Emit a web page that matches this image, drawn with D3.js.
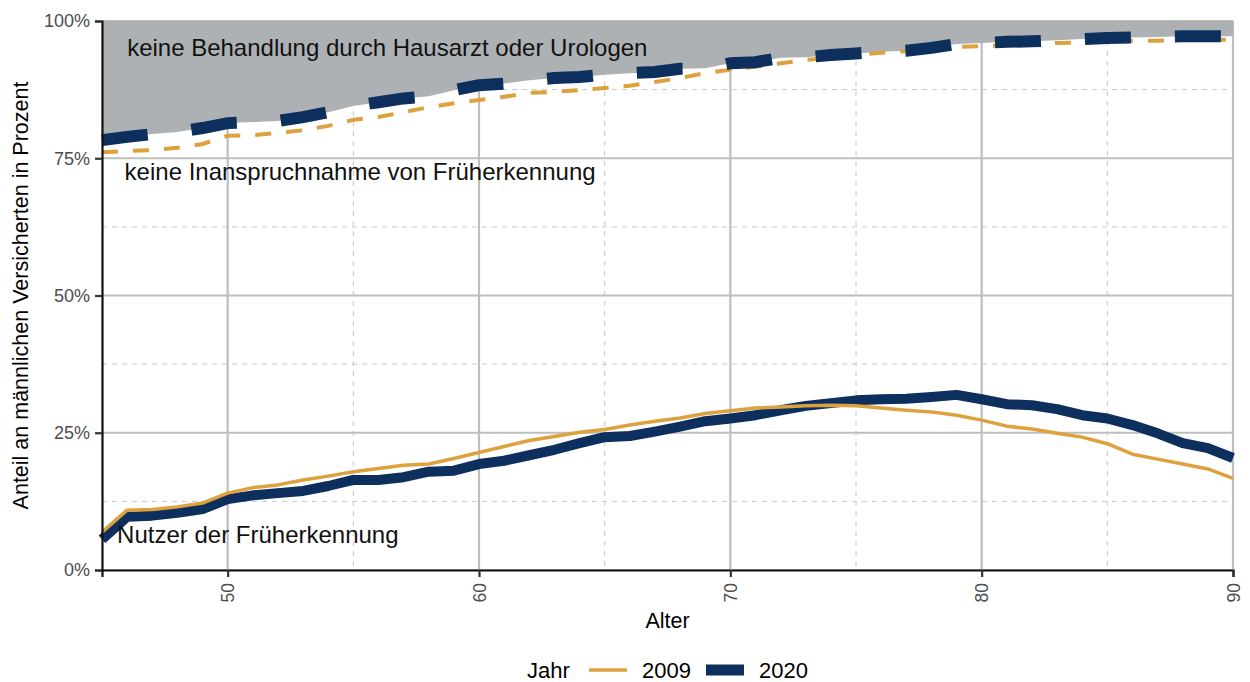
<!DOCTYPE html>
<html>
<head>
<meta charset="utf-8">
<script src="https://cdn.jsdelivr.net/npm/d3@7"></script>
<style>
  body { margin: 0; background: #fff; }
  text { font-family: "Liberation Sans", Arial, sans-serif; }
</style>
</head>
<body>
<div id="wrapper"></div>
<script>
// ages 45..90
const ages = d3.range(45, 91)

// Nutzer der Früherkennung (in %)
const users2009 = [6.9, 10.9, 11.0, 11.5, 12.2, 14.0, 15.0, 15.5, 16.4, 17.1,
  17.9, 18.5, 19.1, 19.3, 20.3, 21.4, 22.5, 23.6, 24.3, 25.1, 25.6, 26.4, 27.1, 27.7, 28.5,
  29.0, 29.5, 29.7, 29.9, 30.0, 29.9, 29.5, 29.1, 28.8, 28.2, 27.3, 26.2, 25.7, 24.9,
  24.2, 23.0, 21.1, 20.2, 19.3, 18.4, 16.7]
const users2020 = [5.6, 9.7, 9.9, 10.4, 11.1, 12.9, 13.6, 14.0, 14.4, 15.3,
  16.4, 16.4, 16.9, 17.9, 18.1, 19.3, 19.9, 20.9, 21.9, 23.1, 24.2, 24.4, 25.2, 26.1, 27.1,
  27.6, 28.2, 29.1, 29.9, 30.4, 30.9, 31.1, 31.2, 31.5, 31.9, 31.1, 30.2, 30.0, 29.3,
  28.2, 27.6, 26.4, 24.9, 23.1, 22.2, 20.4]

// Anteil mit Behandlung durch Hausarzt oder Urologen (in %)
const treated2009 = [76.1, 76.3, 76.5, 76.9, 77.6, 79.1, 79.2, 79.6, 80.1, 80.9,
  82.0, 82.5, 83.4, 84.3, 85.0, 85.6, 86.2, 86.9, 87.1, 87.4, 87.8, 88.2, 88.9, 89.6, 90.5,
  91.1, 91.7, 92.3, 92.9, 93.3, 93.8, 94.2, 94.5, 95.0, 95.3, 95.4, 95.6, 95.8, 96.0,
  96.1, 96.3, 96.4, 96.4, 96.6, 96.6, 96.6]
const treated2020 = [78.3, 78.9, 79.4, 79.8, 80.5, 81.4, 81.6, 81.8, 82.5, 83.4,
  84.5, 85.2, 85.9, 86.3, 87.4, 88.3, 88.6, 89.2, 89.6, 89.8, 90.2, 90.5, 90.7, 91.3, 91.4,
  92.3, 92.5, 93.3, 93.4, 93.8, 94.1, 94.4, 94.6, 95.1, 95.8, 96.0, 96.2, 96.3, 96.5,
  96.7, 96.9, 97.0, 97.1, 97.2, 97.2, 97.2]

const xTicks = [50, 60, 70, 80, 90]
const xMinor = [55, 65, 75, 85]
const yTicks = [0, 25, 50, 75, 100]
const yMinor = [12.5, 37.5, 62.5, 87.5]
const years = ["2009", "2020"]

const colors = { "2009": "#DDA13E", "2020": "#0D2F5E" }

let dms = {
  width: 1250,
  height: 682,
  margins: { top: 21, right: 17, bottom: 112, left: 102 }
}
dms.boundedWidth = dms.width - dms.margins.left - dms.margins.right
dms.boundedHeight = dms.height - dms.margins.top - dms.margins.bottom

const wrapper = d3.select("#wrapper")
  .append("svg")
  .attr("width", dms.width)
  .attr("height", dms.height)

const bounds = wrapper.append("g")
  .attr("transform", `translate(${dms.margins.left},${dms.margins.top})`)

const xScale = d3.scaleLinear()
  .domain([45, 90])
  .range([0, dms.boundedWidth])

const yScale = d3.scaleLinear()
  .domain([0, 100])
  .range([dms.boundedHeight, 0])

// grid
bounds.selectAll(".gx-minor").data(xMinor).join("line")
  .attr("x1", d => xScale(d)).attr("x2", d => xScale(d))
  .attr("y1", 0).attr("y2", dms.boundedHeight)
  .attr("stroke", "#c8c8c8").attr("stroke-width", 1).attr("stroke-dasharray", "5,5")
bounds.selectAll(".gy-minor").data(yMinor).join("line")
  .attr("x1", 0).attr("x2", dms.boundedWidth)
  .attr("y1", d => yScale(d)).attr("y2", d => yScale(d))
  .attr("stroke", "#c8c8c8").attr("stroke-width", 1).attr("stroke-dasharray", "5,5")
bounds.selectAll(".gx").data(xTicks).join("line")
  .attr("x1", d => xScale(d)).attr("x2", d => xScale(d))
  .attr("y1", 0).attr("y2", dms.boundedHeight)
  .attr("stroke", "#bebebe").attr("stroke-width", 2.2)
bounds.selectAll(".gy").data(yTicks).join("line")
  .attr("x1", 0).attr("x2", dms.boundedWidth)
  .attr("y1", d => yScale(d)).attr("y2", d => yScale(d))
  .attr("stroke", "#bebebe").attr("stroke-width", 2.2)

// gray area: keine Behandlung
const area = d3.area()
  .x((d, i) => xScale(ages[i]))
  .y0(yScale(100))
  .y1(d => yScale(d))
bounds.append("path")
  .attr("d", area(treated2020))
  .attr("fill", "#adb1b4")

const line = d3.line()
  .x((d, i) => xScale(ages[i]))
  .y(d => yScale(d))

// upper dashed lines
bounds.append("path")
  .attr("d", line(treated2009))
  .attr("fill", "none").attr("stroke", colors["2009"])
  .attr("stroke-width", 4).attr("stroke-dasharray", "16,15")
bounds.append("path")
  .attr("d", line(treated2020))
  .attr("fill", "none").attr("stroke", colors["2020"])
  .attr("stroke-width", 12).attr("stroke-dasharray", "46,44")

// lower solid lines
bounds.append("path")
  .attr("d", line(users2020))
  .attr("fill", "none").attr("stroke", colors["2020"])
  .attr("stroke-width", 10).attr("stroke-linejoin", "round")
bounds.append("path")
  .attr("d", line(users2009))
  .attr("fill", "none").attr("stroke", colors["2009"])
  .attr("stroke-width", 3.5).attr("stroke-linejoin", "round")

// annotations
const notes = [
  { t: "keine Behandlung durch Hausarzt oder Urologen", x: 46, y: 95.1 },
  { t: "keine Inanspruchnahme von Früherkennung", x: 45.9, y: 72.6 },
  { t: "Nutzer der Früherkennung", x: 45.6, y: 6.4 }
]
bounds.selectAll(".note").data(notes).join("text")
  .attr("x", d => xScale(d.x))
  .attr("y", d => yScale(d.y))
  .attr("dy", "0.35em")
  .attr("font-size", 24)
  .attr("fill", "#111")
  .text(d => d.t)

// axes
const yAxisGenerator = d3.axisLeft(yScale)
  .tickValues(yTicks)
  .tickFormat(d => d + "%")
  .tickSize(7)
  .tickPadding(5)
const yAxis = bounds.append("g").call(yAxisGenerator)
yAxis.select(".domain").attr("stroke", "#111").attr("stroke-width", 2.2)
yAxis.selectAll(".tick line").attr("stroke", "#333").attr("stroke-width", 2.2)
yAxis.selectAll("text").attr("font-size", 18).attr("fill", "#4d4d4d")
  .attr("font-family", "Liberation Sans, Arial, sans-serif")

const xAxisGenerator = d3.axisBottom(xScale)
  .tickValues(xTicks)
  .tickSize(7)
  .tickPadding(5)
const xAxis = bounds.append("g")
  .attr("transform", `translate(0,${dms.boundedHeight})`)
  .call(xAxisGenerator)
xAxis.select(".domain").attr("stroke", "#111").attr("stroke-width", 2.2)
xAxis.selectAll(".tick line").attr("stroke", "#333").attr("stroke-width", 2.2)
xAxis.selectAll("text")
  .attr("font-size", 17.5).attr("fill", "#4d4d4d")
  .attr("font-family", "Liberation Sans, Arial, sans-serif")
  .attr("transform", "rotate(-90)")
  .attr("x", -13).attr("y", 0).attr("dy", "0.35em")
  .attr("text-anchor", "end")

// axis titles
wrapper.append("text")
  .attr("x", dms.margins.left + dms.boundedWidth / 2)
  .attr("y", 628)
  .attr("text-anchor", "middle")
  .attr("font-size", 21.5)
  .text("Alter")

wrapper.append("text")
  .attr("transform", `translate(28,${dms.margins.top + dms.boundedHeight / 2}) rotate(-90)`)
  .attr("text-anchor", "middle")
  .attr("font-size", 21.5)
  .text("Anteil an männlichen Versicherten in Prozent")

// legend
const legend = wrapper.append("g").attr("transform", "translate(0,670)")
legend.append("text").attr("x", 527).attr("dy", "0.35em").attr("font-size", 22).text("Jahr")
const legendItems = [
  { key: "2009", x: 589, w: 3.5 },
  { key: "2020", x: 706, w: 11 }
]
legendItems.forEach(it => {
  legend.append("line")
    .attr("x1", it.x).attr("x2", it.x + 38)
    .attr("stroke", colors[it.key]).attr("stroke-width", it.w)
  legend.append("text")
    .attr("x", it.x + 53).attr("dy", "0.35em").attr("font-size", 22)
    .text(it.key)
})
</script>
</body>
</html>
